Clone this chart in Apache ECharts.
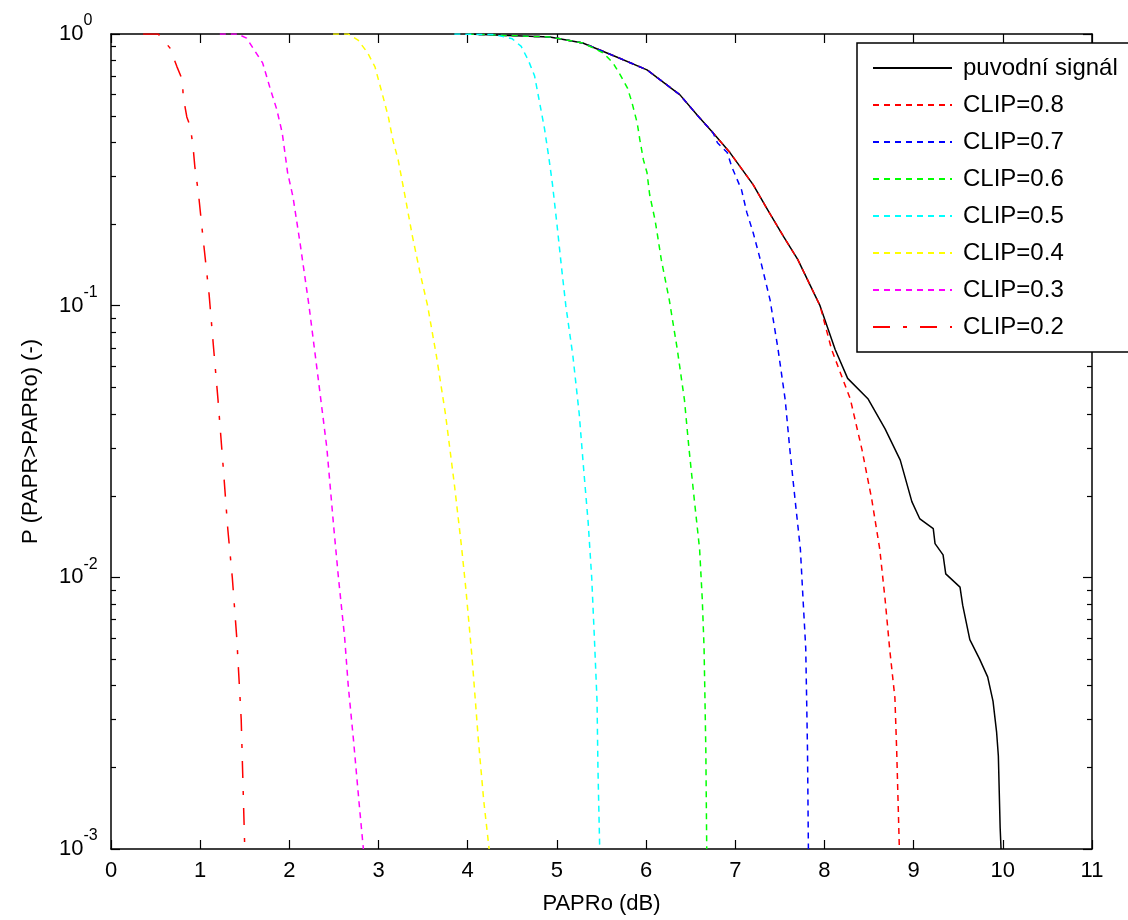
<!DOCTYPE html>
<html>
<head>
<meta charset="utf-8">
<script src="https://cdn.jsdelivr.net/npm/echarts@6/dist/echarts.min.js"></script>
<style>
html,body{margin:0;padding:0;background:#fff;}
#chart{width:1128px;height:920px;}
</style>
</head>
<body>
<div id="chart"></div>
<script>
// ---------------- DATA ----------------
const seriesNames = ['puvodní signál','CLIP=0.8','CLIP=0.7','CLIP=0.6','CLIP=0.5','CLIP=0.4','CLIP=0.3','CLIP=0.2'];

const original = [[4.0,1],[4.92,0.975],[5.29,0.927],[5.67,0.823],[6.01,0.738],[6.38,0.597],[6.57,0.504],[6.75,0.433],[6.94,0.366],[7.20,0.279],[7.36,0.226],[7.54,0.180],[7.70,0.148],[7.95,0.1],[8.12,0.069],[8.26,0.054],[8.49,0.0453],[8.68,0.0352],[8.85,0.027],[8.98,0.019],[9.07,0.0164],[9.22,0.0151],[9.24,0.0133],[9.33,0.0121],[9.36,0.0103],[9.52,0.0092],[9.55,0.0079],[9.63,0.0059],[9.74,0.0050],[9.83,0.0043],[9.89,0.0035],[9.93,0.0027],[9.95,0.0022],[9.97,0.0012],[9.98,0.001]];

const clip08 = [[4.0,1],[4.92,0.975],[5.29,0.927],[5.67,0.823],[6.01,0.738],[6.38,0.597],[6.57,0.504],[6.75,0.433],[6.94,0.366],[7.20,0.279],[7.36,0.226],[7.54,0.180],[7.70,0.148],[7.95,0.1],[8.08,0.069],[8.29,0.0453],[8.42,0.0296],[8.53,0.0194],[8.62,0.0127],[8.68,0.0083],[8.73,0.0055],[8.79,0.0036],[8.81,0.0023],[8.84,0.001]];

const clip07 = [[4.0,1],[4.92,0.975],[5.29,0.927],[5.67,0.823],[6.01,0.738],[6.38,0.597],[6.57,0.504],[6.75,0.433],[6.80,0.398],[6.91,0.366],[6.96,0.325],[7.07,0.267],[7.13,0.22],[7.20,0.186],[7.28,0.148],[7.39,0.105],[7.48,0.069],[7.56,0.045],[7.61,0.03],[7.67,0.0194],[7.73,0.0127],[7.76,0.0083],[7.79,0.0055],[7.80,0.0036],[7.81,0.0023],[7.82,0.001]];

const clip06 = [[4.0,1],[4.92,0.975],[5.29,0.927],[5.52,0.852],[5.63,0.782],[5.71,0.707],[5.79,0.634],[5.84,0.562],[5.90,0.471],[5.93,0.408],[5.97,0.344],[6.01,0.309],[6.04,0.256],[6.10,0.207],[6.13,0.18],[6.17,0.148],[6.26,0.105],[6.35,0.069],[6.43,0.045],[6.48,0.03],[6.54,0.0194],[6.60,0.0127],[6.63,0.0083],[6.65,0.0055],[6.66,0.0036],[6.67,0.0023],[6.68,0.001]];

const clip05 = [[3.85,1],[4.3,0.995],[4.5,0.96],[4.6,0.9],[4.68,0.8],[4.75,0.7],[4.81,0.55],[4.86,0.45],[4.91,0.35],[4.95,0.28],[5.0,0.2],[5.05,0.14],[5.1,0.1],[5.18,0.065],[5.25,0.04],[5.3,0.025],[5.35,0.016],[5.39,0.01],[5.42,0.006],[5.45,0.0035],[5.46,0.002],[5.48,0.001]];

const clip04 = [[2.49,1],[2.66,1],[2.77,0.95],[2.88,0.85],[2.96,0.757],[3.05,0.588],[3.11,0.495],[3.16,0.408],[3.22,0.344],[3.3,0.25],[3.38,0.18],[3.47,0.13],[3.55,0.1],[3.65,0.065],[3.75,0.04],[3.85,0.022],[3.93,0.013],[3.98,0.009],[4.05,0.005],[4.12,0.0025],[4.18,0.0015],[4.24,0.001]];

const clip03 = [[1.22,1],[1.42,1],[1.52,0.966],[1.70,0.783],[1.78,0.638],[1.86,0.526],[1.92,0.432],[1.95,0.366],[1.98,0.309],[2.04,0.252],[2.12,0.17],[2.22,0.1],[2.32,0.055],[2.42,0.03],[2.5,0.015],[2.55,0.01],[2.62,0.006],[2.66,0.004],[2.72,0.0025],[2.78,0.0015],[2.83,0.001]];

const clip02 = [[0.36,1],[0.53,1],[0.66,0.889],[0.74,0.757],[0.80,0.678],[0.81,0.588],[0.85,0.495],[0.89,0.455],[0.92,0.385],[0.94,0.325],[0.98,0.26],[1.03,0.18],[1.1,0.11],[1.15,0.07],[1.2,0.045],[1.26,0.025],[1.31,0.015],[1.36,0.01],[1.41,0.006],[1.46,0.003],[1.5,0.001]];

const xTickLabels = ['0','1','2','3','4','5','6','7','8','9','10','11'];
const yTickExponents = ['0','-1','-2','-3'];
const minorTickValues = [0.002,0.003,0.004,0.005,0.006,0.007,0.008,0.009,0.02,0.03,0.04,0.05,0.06,0.07,0.08,0.09,0.2,0.3,0.4,0.5,0.6,0.7,0.8,0.9];

// ---------------- STYLE ----------------
const FONT = 'Liberation Sans, Arial, Helvetica, sans-serif';
const X_MIN = 0, X_MAX = 11, Y_MIN = 0.001, Y_MAX = 1;
const seriesData = [original, clip08, clip07, clip06, clip05, clip04, clip03, clip02];
const colors = ['#000000','#ff0000','#0000ff','#00ff00','#00ffff','#ffff00','#ff00ff','#ff0000'];
const dashTypes = ['solid',[6,5],[6,5],[6,5],[6,5],[6,5],[6,5],[17,13,4,13]];

const lineSeries = seriesNames.map((name, i) => ({
  name: name,
  type: 'line',
  data: seriesData[i],
  showSymbol: false,
  symbol: 'none',
  smooth: false,
  clip: true,
  lineStyle: { color: colors[i], width: 1.5, type: dashTypes[i] },
  itemStyle: { color: colors[i] },
  z: 2 + i
}));

const minorTickSeries = {
  type: 'custom',
  name: 'minorTicks',
  silent: true,
  clip: false,
  z: 20,
  data: minorTickValues.map(v => [X_MIN, v]),
  renderItem: function (params, api) {
    const v = api.value(1);
    const pL = api.coord([X_MIN, v]);
    const pR = api.coord([X_MAX, v]);
    const y = Math.round(pL[1]) + 0.5;
    return {
      type: 'group',
      children: [
        { type: 'line', shape: { x1: pL[0], y1: y, x2: pL[0] + 5, y2: y }, style: { stroke: '#000', lineWidth: 1.2 } },
        { type: 'line', shape: { x1: pR[0], y1: y, x2: pR[0] - 5, y2: y }, style: { stroke: '#000', lineWidth: 1.2 } }
      ]
    };
  }
};

const chart = echarts.init(document.getElementById('chart'), null, { renderer: 'canvas' });
const axisCommon = {
  axisLine: { show: true, onZero: false, lineStyle: { color: '#000', width: 1.5 } },
  axisTick: { show: true, inside: true, length: 9, lineStyle: { color: '#000', width: 1.2 } },
  splitLine: { show: false }
};

const option = {
  animation: false,
  backgroundColor: '#ffffff',
  textStyle: { fontFamily: FONT },
  grid: { left: 111, right: 36, top: 34, bottom: 69, containLabel: false },
  legend: {
    data: seriesNames,
    orient: 'vertical',
    left: 857,
    top: 43,
    padding: [12, 30, 12, 15],
    itemWidth: 79,
    itemHeight: 14,
    itemGap: 11,
    backgroundColor: '#ffffff',
    borderColor: '#000',
    borderWidth: 1.5,
    borderRadius: 0,
    selectedMode: false,
    itemStyle: { opacity: 0 },
    textStyle: { fontSize: 24, lineHeight: 26, color: '#000', fontFamily: FONT, padding: [0, 0, 0, 6] },
    z: 30
  },
  xAxis: [
    Object.assign({}, axisCommon, {
      type: 'value', position: 'bottom', min: X_MIN, max: X_MAX, interval: 1,
      name: 'PAPRo (dB)', nameLocation: 'middle', nameGap: 44,
      nameTextStyle: { fontSize: 22, color: '#000', fontFamily: FONT },
      axisLabel: { show: true, margin: 11, fontSize: 22, color: '#000', fontFamily: FONT,
        formatter: v => xTickLabels[Math.round(v)] }
    }),
    Object.assign({}, axisCommon, {
      type: 'value', position: 'top', min: X_MIN, max: X_MAX, interval: 1,
      axisLabel: { show: false }
    })
  ],
  yAxis: [
    Object.assign({}, axisCommon, {
      type: 'log', logBase: 10, position: 'left', min: Y_MIN, max: Y_MAX, interval: 1,
      name: 'P (PAPR>PAPRo) (-)', nameLocation: 'middle', nameGap: 69, nameRotate: 90,
      nameTextStyle: { fontSize: 22, color: '#000', fontFamily: FONT },
      axisLabel: {
        show: true, margin: 52, align: 'left',
        formatter: function (v) {
          const e = Math.round(Math.log10(v));
          return '{b|10}{s|' + yTickExponents[-e] + '}';
        },
        rich: {
          b: { fontSize: 22, lineHeight: 42, color: '#000', fontFamily: FONT },
          s: { fontSize: 16, lineHeight: 16, color: '#000', fontFamily: FONT, verticalAlign: 'top' }
        }
      }
    }),
    Object.assign({}, axisCommon, {
      type: 'log', logBase: 10, position: 'right', min: Y_MIN, max: Y_MAX, interval: 1,
      axisLabel: { show: false }
    })
  ],
  series: lineSeries.concat([minorTickSeries])
};
chart.setOption(option);
</script>
</body>
</html>
